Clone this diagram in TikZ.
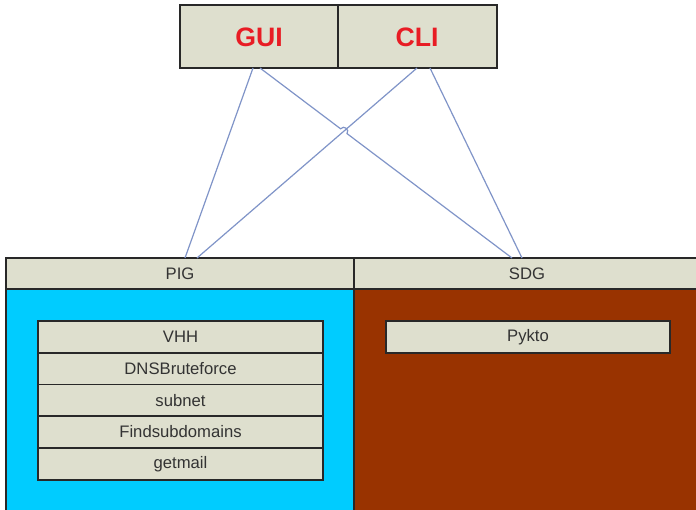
\documentclass[tikz,border=0pt]{standalone}
\usepackage{fontspec}
\setmainfont{Liberation Sans}
\definecolor{beige}{RGB}{222,223,206}
\definecolor{cyanbg}{RGB}{0,204,255}
\definecolor{brownbg}{RGB}{153,51,0}
\definecolor{linkc}{RGB}{128,148,200}
\definecolor{redtxt}{RGB}{232,28,36}
\definecolor{edge}{RGB}{40,40,40}
\begin{document}
\begin{tikzpicture}[x=0.75pt,y=-0.75pt,
  boxe/.style={draw=edge,line width=1pt,fill=beige},
  bigtxt/.style={font=\fontsize{20}{24}\selectfont\bfseries,text=redtxt},
  smalltxt/.style={font=\fontsize{12.5}{15}\selectfont,text=black!80},
  link/.style={draw=linkc,line width=0.9pt}]
\useasboundingbox (0,0) rectangle (696,510);
\fill[white] (0,0) rectangle (696,510);
% top boxes
\draw[boxe] (180,5) rectangle (338,68);
\draw[boxe] (338,5) rectangle (497,68);
\node[bigtxt] (gui) at (259,37) {GUI};
\node[bigtxt] (cli) at (417,37) {CLI};
% group regions
\fill[cyanbg] (6,289) rectangle (354,515);
\fill[brownbg] (354,289) rectangle (700,515);
\draw[edge,line width=1pt] (6,515) -- (6,258) -- (354,258) -- (354,515);
\draw[boxe] (6,258) rectangle (354,289);
\draw[boxe] (354,258) rectangle (700,289);
\node[smalltxt] (pig) at (180,273.5) {PIG};
\node[smalltxt] (sdg) at (527,273.5) {SDG};
% inner list
\draw[boxe] (38,321) rectangle (323,353);
\draw[boxe] (38,353) rectangle (323,384.5);
\draw[boxe] (38,384.5) rectangle (323,416);
\draw[boxe] (38,416) rectangle (323,448);
\draw[boxe] (38,448) rectangle (323,480);
\node[smalltxt] (vhh) at (180.5,337) {VHH};
\node[smalltxt] (dns) at (180.5,369) {DNSBruteforce};
\node[smalltxt] (sub) at (180.5,400.5) {subnet};
\node[smalltxt] (find) at (180.5,432) {Findsubdomains};
\node[smalltxt] (mail) at (180.5,464) {getmail};
\draw[boxe] (386,321) rectangle (670,353);
\node[smalltxt] (pykto) at (528,337) {Pykto};
% connector endpoints
\coordinate (g1) at (253,68);
\coordinate (g2) at (260,68);
\coordinate (c1) at (417,68);
\coordinate (c2) at (430,68);
\coordinate (p1) at (185,258);
\coordinate (p2) at (197,258);
\coordinate (s1) at (512,258);
\coordinate (s2) at (522,258);
\coordinate (h1) at (340.6,128.8);
\coordinate (h2) at (347.0,133.6);
% connectors
\draw[link] (g1) -- (p1);
\draw[link] (c1) -- (p2);
\draw[link] (c2) -- (s2);
\draw[link] (g2) -- (h1) .. controls (343.6,124.8) and (350.0,129.6) .. (h2) -- (s1);
\end{tikzpicture}
\end{document}
